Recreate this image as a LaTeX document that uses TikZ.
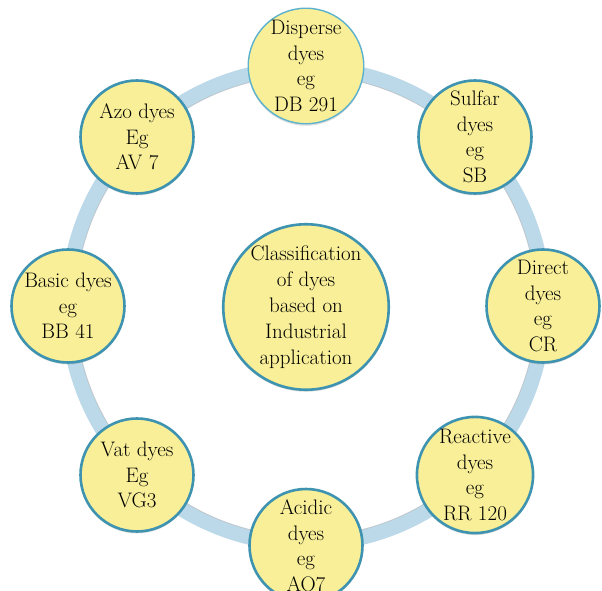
\documentclass[tikz,border=0pt]{standalone}
\usepackage{fontspec}
\usetikzlibrary{shadows}
\definecolor{dyeyellow}{RGB}{248,239,152}
\definecolor{dyeborder}{RGB}{62,147,176}
\definecolor{topborder}{RGB}{92,178,206}
\definecolor{ringblue}{RGB}{188,217,234}

\begin{document}
\begin{tikzpicture}[
  x=1pt, y=1pt,
  dye/.style={circle, draw=dyeborder, line width=2.6pt, fill=dyeyellow,
    minimum size=113pt, inner sep=0pt, align=center,
    font=\fontsize{21}{25.5}\selectfont,
    drop shadow={opacity=0.25, shadow xshift=0pt, shadow yshift=-2pt}},
  hub/.style={dye, minimum size=163pt, font=\fontsize{21}{26}\selectfont},
  ring/.style={draw=ringblue, line width=15pt},
]
  \useasboundingbox (-306,-285) rectangle (296,306);

  % ring behind the circles
  \draw[ring] (0,0) circle (238);
  \draw[gray!60, line width=0.8pt, opacity=0.6] (0,0) circle (230.5);

  \node[hub] (hub) at (0,-1) {Classification\\of dyes\\based on\\Industrial\\application};

  \node[dye, draw=topborder, line width=1.4pt] (disperse) at (90:240) {Disperse\\dyes\\eg\\DB 291};
  \node[dye] (sulfar) at (45:239) {Sulfar\\dyes\\eg\\SB};
  \node[dye] (direct) at (0:237) {Direct\\dyes\\eg\\CR};
  \node[dye] (reactive) at (-45:239) {Reactive\\dyes\\eg\\RR 120};
  \node[dye] (acidic) at (-90:239.5) {Acidic\\dyes\\eg\\AO7};
  \node[dye] (vat) at (-135:239) {Vat dyes\\Eg\\VG3};
  \node[dye] (basic) at (180:238) {Basic dyes\\eg\\BB 41};
  \node[dye] (azo) at (135:239) {Azo dyes\\Eg\\AV 7};
\end{tikzpicture}
\end{document}
